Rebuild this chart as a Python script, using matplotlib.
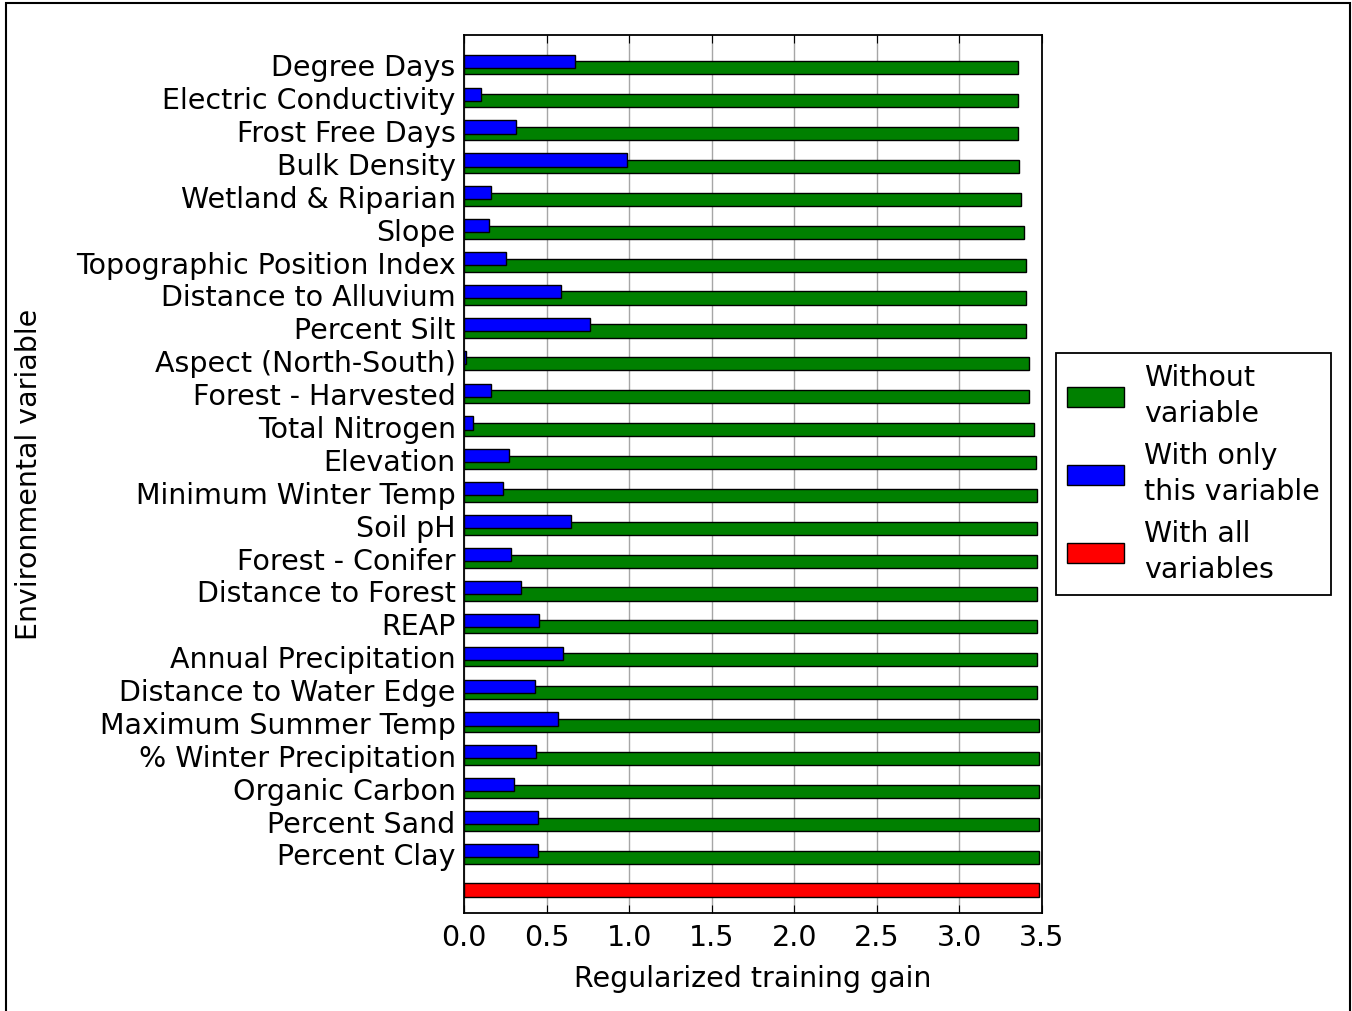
import numpy as np
import matplotlib
matplotlib.use('Agg')
import matplotlib.pyplot as plt
from matplotlib.patches import Rectangle

# Variables, du haut vers le bas
variables = ['Degree Days', 'Electric Conductivity', 'Frost Free Days', 'Bulk Density',
             'Wetland & Riparian', 'Slope', 'Topographic Position Index',
             'Distance to Alluvium', 'Percent Silt', 'Aspect (North-South)',
             'Forest - Harvested', 'Total Nitrogen', 'Elevation', 'Minimum Winter Temp',
             'Soil pH', 'Forest - Conifer', 'Distance to Forest', 'REAP',
             'Annual Precipitation', 'Distance to Water Edge', 'Maximum Summer Temp',
             '% Winter Precipitation', 'Organic Carbon', 'Percent Sand', 'Percent Clay']

# Gain sans la variable
without_var = [3.352, 3.352, 3.352, 3.361, 3.370, 3.391, 3.403, 3.403, 3.403, 3.421,
               3.421, 3.451, 3.463, 3.472, 3.472, 3.472, 3.472, 3.472, 3.472, 3.472,
               3.481, 3.481, 3.481, 3.481, 3.481]

# Gain avec seulement la variable
only_var = [0.671, 0.102, 0.317, 0.985, 0.162, 0.153, 0.254, 0.590, 0.761, 0.012,
            0.162, 0.053, 0.275, 0.234, 0.650, 0.285, 0.345, 0.456, 0.599, 0.428,
            0.569, 0.437, 0.305, 0.446, 0.446]

# Gain avec toutes les variables
all_vars = 3.481

plt.rcParams['font.family'] = 'DejaVu Sans'
plt.rcParams['font.size'] = 20.5

fig = plt.figure(figsize=(13.52, 10.11), dpi=100)
ax = fig.add_axes([464 / 1352, 1 - 913 / 1011, 578 / 1352, 878 / 1011])

n = len(variables)
ind = np.arange(n)[::-1]  # Degree Days en haut
h = 0.4

ax.barh(ind, without_var, height=h, color='green', edgecolor='black', linewidth=1,
        label='Without\nvariable', zorder=2)
ax.barh(ind + 0.2, only_var, height=h, color='blue', edgecolor='black', linewidth=1,
        label='With only\nthis variable', zorder=3)
ax.barh([-1], [all_vars], height=h, color='red', edgecolor='black', linewidth=1,
        label='With all\nvariables', zorder=2)

ax.set_yticks(ind + 0.08)
ax.set_yticklabels(variables)
ax.tick_params(axis='y', length=0, pad=6)
ax.set_ylim(-1.7, 25)

ax.set_xlim(0, 3.5)
ax.set_xticks(np.arange(0, 3.51, 0.5))
ax.tick_params(axis='x', direction='in', top=True, length=6, pad=8)
ax.xaxis.grid(True, color='gray', linewidth=1, alpha=0.7, zorder=0)
ax.set_axisbelow(True)

ax.set_xlabel('Regularized training gain', labelpad=9)
ax.set_ylabel('Environmental variable')
ax.yaxis.set_label_coords(-0.728, 0.5)

for sp in ax.spines.values():
    sp.set_linewidth(1.3)

leg = ax.legend(loc='center left', bbox_to_anchor=(1 + 14 / 578, 0.5), borderaxespad=0,
                fancybox=False, framealpha=1, edgecolor='black', labelspacing=0.5,
                handletextpad=0.7)
leg.get_frame().set_linewidth(1.3)
for t in leg.get_texts():
    t.set_linespacing(1.35)

# cadre autour de la figure
fig.patches.append(Rectangle((5.5 / 1352, -0.01), (1350 - 5.5) / 1352, 1.01 - 3 / 1011,
                             transform=fig.transFigure, fill=False, edgecolor='black',
                             linewidth=1.5))

fig.savefig('out.png', dpi=100)
